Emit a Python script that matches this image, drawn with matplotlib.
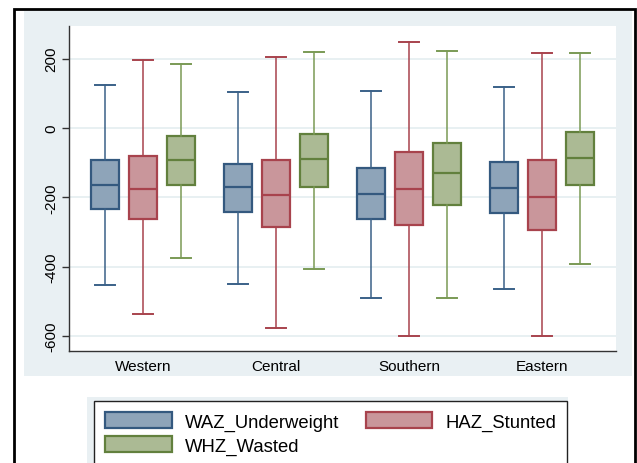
import matplotlib
matplotlib.use("Agg")
import matplotlib.pyplot as plt
from matplotlib.patches import Rectangle, Patch

plt.rcParams['font.family'] = ['Liberation Sans', 'DejaVu Sans']

regions = ["Western", "Central", "Southern", "Eastern"]
series = ["WAZ_Underweight", "HAZ_Stunted", "WHZ_Wasted"]

# five-number summaries per region: lower whisker, Q1, median, Q3, upper whisker
waz_low = [-453, -449, -489, -465]
waz_q1 = [-235, -242, -263, -244]
waz_med = [-164, -171, -191, -174]
waz_q3 = [-92, -105, -114, -99]
waz_high = [125, 103, 106, 118]

haz_low = [-537, -578, -599, -599]
haz_q1 = [-262, -286, -281, -295]
haz_med = [-176, -194, -177, -198]
haz_q3 = [-80, -91, -69, -93]
haz_high = [195, 205, 249, 215]

whz_low = [-376, -406, -489, -393]
whz_q1 = [-164, -170, -221, -164]
whz_med = [-92, -90, -129, -87]
whz_q3 = [-23, -16, -43, -13]
whz_high = [185, 219, 222, 215]

yticks = [200, 0, -200, -400, -600]

fills = ["#8EA4B9", "#C9969B", "#ABBA94"]
edges = ["#34597F", "#A8434D", "#62803D"]
whisk = ["#3A6188", "#A8434D", "#7A9A55"]
bg = "#E9F0F3"

data = [
    (waz_low, waz_q1, waz_med, waz_q3, waz_high),
    (haz_low, haz_q1, haz_med, haz_q3, haz_high),
    (whz_low, whz_q1, whz_med, whz_q3, whz_high),
]

W, H = 637, 464
fig = plt.figure(figsize=(W / 100, H / 100), dpi=100)

# outer frame and shaded backgrounds
fig.patches.append(Rectangle((14 / W, -0.05), (635 - 14) / W, (H - 10) / H + 0.05,
                             transform=fig.transFigure, fill=False, ec="black", lw=2, zorder=5))
fig.patches.append(Rectangle((24 / W, (H - 377) / H), (632 - 24) / W, (377 - 12) / H,
                             transform=fig.transFigure, fc=bg, ec="none", zorder=-2))
fig.patches.append(Rectangle((87 / W, -0.01), (568 - 87) / W, (H - 398) / H + 0.01,
                             transform=fig.transFigure, fc=bg, ec="none", zorder=-2))

ax = fig.add_axes([69 / W, (H - 352) / H, (616 - 69) / W, (352 - 27) / H])
ax.set_facecolor("white")

offset = 38 / 133
width = 28.5 / 133
for k, (lo, q1, med, q3, hi) in enumerate(data):
    stats = []
    for i in range(len(regions)):
        stats.append(dict(whislo=lo[i], q1=q1[i], med=med[i], q3=q3[i], whishi=hi[i], fliers=[]))
    pos = [i + (k - 1) * offset for i in range(len(regions))]
    ax.bxp(stats, positions=pos, widths=width, capwidths=width * 0.68,
           patch_artist=True, showfliers=False, manage_ticks=False,
           boxprops=dict(facecolor=fills[k], edgecolor=edges[k], linewidth=1.6),
           medianprops=dict(color=edges[k], linewidth=1.6),
           whiskerprops=dict(color=whisk[k], linewidth=1.1),
           capprops=dict(color=whisk[k], linewidth=1.4))

ax.set_xlim(-0.556, 3.556)
ax.set_ylim(-643, 294)
ax.set_xticks(range(len(regions)))
ax.set_xticklabels(regions, fontsize=11)
ax.set_yticks(yticks)
ax.set_yticklabels([str(v) for v in yticks], rotation=90, va="center", fontsize=11)
ax.tick_params(axis="x", length=0, pad=6)
ax.tick_params(axis="y", length=5, width=1, color="#333333", pad=3)
ax.grid(axis="y", color="#E4EDF0", linewidth=1.2)
ax.set_axisbelow(True)
for s in ["top", "right"]:
    ax.spines[s].set_visible(False)
for s in ["left", "bottom"]:
    ax.spines[s].set_color("#333333")
    ax.spines[s].set_linewidth(1)

handles = [Patch(facecolor=fills[k], edgecolor=edges[k], linewidth=1.6, label=series[k])
           for k in (0, 2, 1)]
leg = fig.legend(handles=handles, ncol=2, loc="upper left",
                 bbox_to_anchor=(94 / W, (H - 402) / H), borderaxespad=0, fontsize=13.3,
                 handlelength=3.6, handleheight=0.95, handletextpad=0.7,
                 columnspacing=1.45, labelspacing=0.32, borderpad=0.6,
                 frameon=True, fancybox=False, edgecolor="#222222", framealpha=1)
leg.get_frame().set_linewidth(1)

fig.savefig("out.png", dpi=100)
